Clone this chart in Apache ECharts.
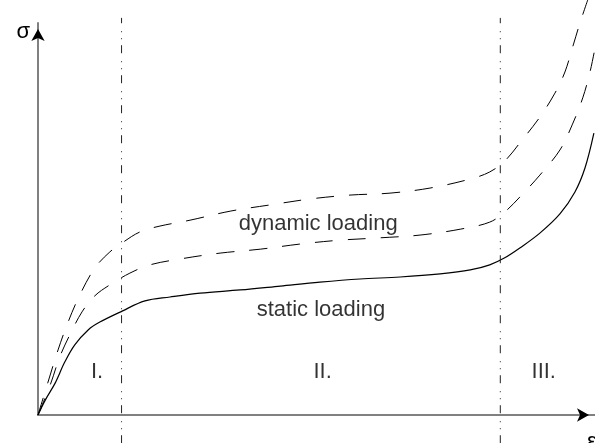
<!DOCTYPE html>
<html>
<head>
<meta charset="utf-8">
<script src="https://cdn.jsdelivr.net/npm/echarts@6/dist/echarts.min.js"></script>
<style>
html, body { margin: 0; padding: 0; background: #fff; }
#main { width: 595px; height: 443px; }
</style>
</head>
<body>
<div id="main"></div>
<script>
// strain (arbitrary units) and stress values
var staticX = [0, 0.13, 0.31, 0.48, 0.66, 0.90, 1.11, 1.51, 1.92, 2.37, 2.91, 3.63, 4.35, 5.06, 5.78, 6.50, 7.22, 7.76, 8.11, 8.38, 8.65, 9.01, 9.37, 9.64, 9.82, 9.98];
var staticY = [0, 0.38, 0.82, 1.35, 1.79, 2.17, 2.37, 2.65, 2.91, 3.01, 3.11, 3.19, 3.29, 3.39, 3.47, 3.52, 3.60, 3.70, 3.83, 4.01, 4.26, 4.64, 5.13, 5.69, 6.30, 7.19];

var dynLowX = [0, 0.22, 0.39, 0.57, 0.79, 1.02, 1.29, 1.65, 2.01, 2.55, 3.27, 3.99, 4.70, 5.42, 6.14, 6.86, 7.58, 8.11, 8.38, 8.65, 9.01, 9.37, 9.59, 9.78, 9.91, 10.0];
var dynLowY = [0, 0.77, 1.48, 2.04, 2.63, 3.04, 3.32, 3.62, 3.83, 3.98, 4.13, 4.23, 4.36, 4.46, 4.52, 4.59, 4.74, 4.92, 5.18, 5.56, 6.12, 6.76, 7.40, 8.09, 8.75, 9.36];

var dynHighX = [0, 0.18, 0.36, 0.54, 0.75, 1.02, 1.29, 1.51, 1.83, 2.19, 2.73, 3.45, 4.17, 4.88, 5.60, 6.32, 7.04, 7.76, 8.11, 8.38, 8.65, 9.01, 9.28, 9.46, 9.61, 9.73, 9.87];
var dynHighY = [0, 0.84, 1.66, 2.37, 3.06, 3.75, 4.16, 4.39, 4.67, 4.82, 4.97, 5.20, 5.36, 5.51, 5.61, 5.66, 5.79, 6.02, 6.20, 6.48, 6.94, 7.60, 8.21, 8.75, 9.44, 10.0, 10.59];

// region boundaries (I | II | III)
var boundaryX = [1.5, 8.3];
var boundaryTop = 10.13;
var boundaryBottom = -0.72;

// text placed in data coordinates
var noteText = ['dynamic loading', 'static loading', 'I.', 'II.', 'III.'];
var noteX = [5.03, 5.08, 1.06, 5.11, 9.08];
var noteY = [4.87, 2.68, 1.10, 1.10, 1.10];

function pairs(xs, ys) {
	var out = [];
	for (var i = 0; i < xs.length; i++) out.push([xs[i], ys[i]]);
	return out;
}

var mainChart = echarts.init(document.getElementById('main'));

var curveBase = {
	type: 'line',
	showSymbol: false,
	symbol: 'none',
	smooth: 0.35,
	clip: false,
	silent: true
};

var series = [];
series.push(Object.assign({}, curveBase, {
	name: 'static loading',
	data: pairs(staticX, staticY),
	lineStyle: { color: '#000', width: 1.2 }
}));
series.push(Object.assign({}, curveBase, {
	name: 'dynamic loading (lower)',
	data: pairs(dynLowX, dynLowY),
	lineStyle: { color: '#000', width: 1, type: [18, 15] }
}));
series.push(Object.assign({}, curveBase, {
	name: 'dynamic loading (upper)',
	data: pairs(dynHighX, dynHighY),
	lineStyle: { color: '#000', width: 1, type: [18, 15] }
}));
boundaryX.forEach(function (bx) {
	series.push({
		type: 'line',
		symbol: 'none',
		clip: false,
		silent: true,
		data: [[bx, boundaryBottom], [bx, boundaryTop]],
		lineStyle: { color: '#222', width: 1, type: [8, 6, 1, 6, 1, 8] }
	});
});
series.push({
	type: 'scatter',
	symbolSize: 0,
	clip: false,
	silent: true,
	data: noteText.map(function (t, i) { return { value: [noteX[i], noteY[i]], name: t }; }),
	label: {
		show: true,
		position: 'inside',
		formatter: '{b}',
		color: '#000',
		fontSize: 22,
		fontFamily: 'Liberation Sans, Arial, sans-serif'
	}
});

var hidden = {
	axisTick: { show: false },
	axisLabel: { show: false },
	splitLine: { show: false }
};

var chartOpt = {
	animation: false,
	backgroundColor: '#fff',
	grid: { left: 38, right: 0, top: 23, bottom: 28, containLabel: false, outerBoundsMode: 'none' },
	xAxis: [
		Object.assign({
			type: 'value', min: 0, max: 10, position: 'bottom',
			name: 'ε', nameLocation: 'end', nameGap: -8,
			nameTextStyle: { fontSize: 22, fontFamily: 'Liberation Sans, Arial, sans-serif', color: '#000', align: 'left', verticalAlign: 'top', padding: [16, 0, 0, 0] },
			axisLine: { onZero: false, lineStyle: { color: '#808080', width: 2 } }
		}, hidden),
		Object.assign({
			type: 'value', min: 0, max: 10, position: 'bottom',
			axisLine: { onZero: false, symbol: ['none', 'arrow'], symbolSize: [10, 12], symbolOffset: [0, -6], lineStyle: { color: '#000', width: 0 } }
		}, hidden)
	],
	yAxis: [
		Object.assign({
			type: 'value', min: 0, max: 10, position: 'left',
			name: 'σ', nameLocation: 'end', nameGap: -9,
			nameTextStyle: { fontSize: 22, fontFamily: 'Liberation Sans, Arial, sans-serif', color: '#000', align: 'right', verticalAlign: 'middle', padding: [0, 8, 0, 0] },
			axisLine: { onZero: false, lineStyle: { color: '#808080', width: 2 } }
		}, hidden),
		Object.assign({
			type: 'value', min: 0, max: 10, position: 'left',
			axisLine: { onZero: false, symbol: ['none', 'arrow'], symbolSize: [10, 12], symbolOffset: [0, -6], lineStyle: { color: '#000', width: 0 } }
		}, hidden)
	],
	series: series
};

mainChart.setOption(chartOpt);
</script>
</body>
</html>
